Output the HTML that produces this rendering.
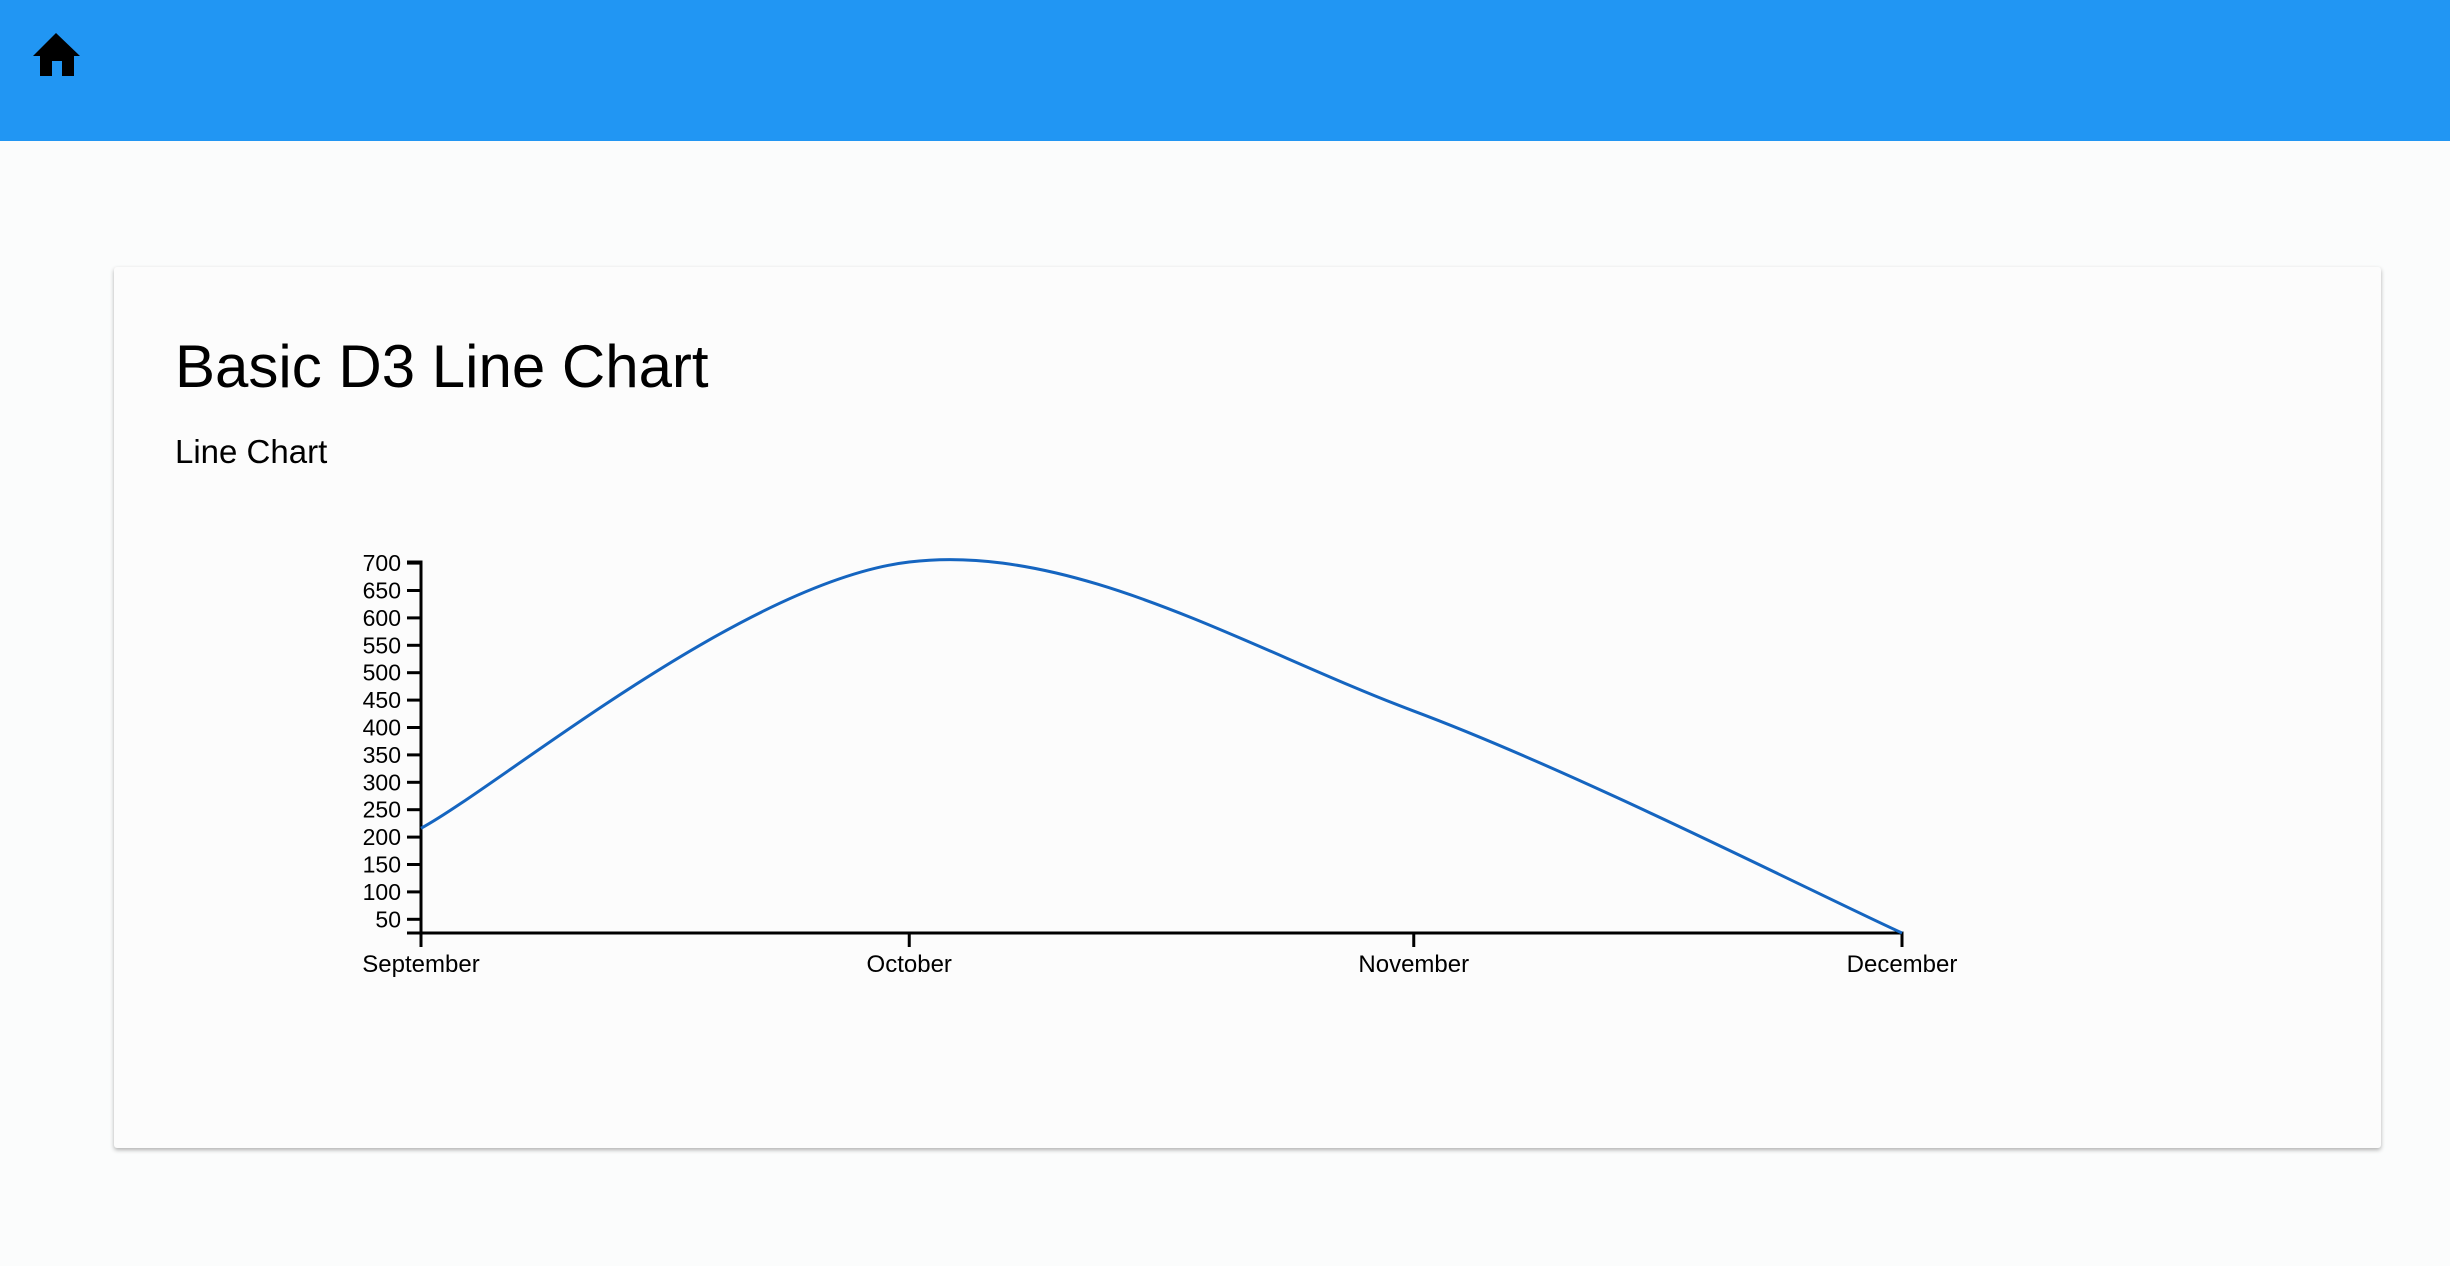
<!DOCTYPE html>
<html><head><meta charset="utf-8"><style>
html,body{margin:0;padding:0;width:2450px;height:1266px;overflow:hidden;background:#fbfcfc;font-family:"Liberation Sans",Arial,sans-serif;}
#hdr{position:absolute;left:0;top:0;width:2450px;height:141px;background:#2196f3;}
#card{position:absolute;left:114px;top:267px;width:2267px;height:881px;background:#fcfcfc;box-shadow:0 2px 4px rgba(0,0,0,0.3);border-radius:3px;}
#title{position:absolute;left:175px;top:332px;font-size:60px;color:#000;margin:0;font-weight:normal;}
#sub{position:absolute;left:175px;top:433px;font-size:33px;color:#000;}
svg{position:absolute;left:0;top:0;}
</style></head><body>
<div id="hdr">
<svg width="60" height="60" style="left:30px;top:30px"><path d="M3 26 L26 3 L50 26 L44 26 L44 46 L32 46 L32 31 L22 31 L22 46 L10 46 L10 26 Z" fill="#000"/></svg>
</div>
<div id="card"></div>
<h1 id="title">Basic D3 Line Chart</h1>
<div id="sub">Line Chart</div>
<svg id="chart" width="2450" height="1266"></svg>
<script>
const months=["September","October","November","December"];
const dayOffsets=[0,30,61,91];
const values=[216,702,430,25];
const yTicks=[50,100,150,200,250,300,350,400,450,500,550,600,650,700];
const yMin=25, yMax=702;
const X0=421,X1=1902,Y0=933,Y1=562;
function xs(d){return X0+(d-dayOffsets[0])/(dayOffsets[3]-dayOffsets[0])*(X1-X0);}
function ys(v){return Y0-(v-yMin)/(yMax-yMin)*(Y0-Y1);}
const svg=document.getElementById('chart');
const NS='http://www.w3.org/2000/svg';
function mk(t,a){const e=document.createElementNS(NS,t);for(const k in a)e.setAttribute(k,a[k]);svg.appendChild(e);return e;}
let e=mk('path',{d:`M${X0-14},${Y1}H${X0}V${Y0}H${X0-14}`,stroke:'#000','stroke-width':3,fill:'none'});


e=mk('path',{d:`M${X0},${Y0+14}V${Y0}H${X1}V${Y0+14}`,stroke:'#000','stroke-width':3,fill:'none'});


yTicks.forEach(v=>{
 const y=ys(v);
 let l=mk('line',{x1:X0-14,x2:X0,y1:y,y2:y,stroke:'#000','stroke-width':3});
 
 
 let t=mk('text',{x:X0-20,y:y+8,'text-anchor':'end','font-size':23,fill:'#000'});
 t.textContent=v;
 
 
});
months.forEach((m,i)=>{
 const x=xs(dayOffsets[i]);
 let l=mk('line',{x1:x,x2:x,y1:Y0,y2:Y0+14,stroke:'#000','stroke-width':3});
 
 
 let t=mk('text',{x:x,y:Y0+39,'text-anchor':'middle','font-size':24,fill:'#000'});
 t.textContent=m;
 
 
});
const pts=values.map((v,i)=>[xs(dayOffsets[i]),ys(v)]);
let d=`M${pts[0][0]},${pts[0][1]}`;
for(let i=0;i<pts.length-1;i++){
 const p0=pts[Math.max(i-1,0)],p1=pts[i],p2=pts[i+1],p3=pts[Math.min(i+2,pts.length-1)];
 const c1=[p1[0]+(p2[0]-p0[0])/6,p1[1]+(p2[1]-p0[1])/6];
 const c2=[p2[0]-(p3[0]-p1[0])/6,p2[1]-(p3[1]-p1[1])/6];
 d+=`C${c1[0]},${c1[1]} ${c2[0]},${c2[1]} ${p2[0]},${p2[1]}`;
}
e=mk('path',{d:d,stroke:'#1565c0','stroke-width':3,fill:'none'});


</script>
</body></html>
